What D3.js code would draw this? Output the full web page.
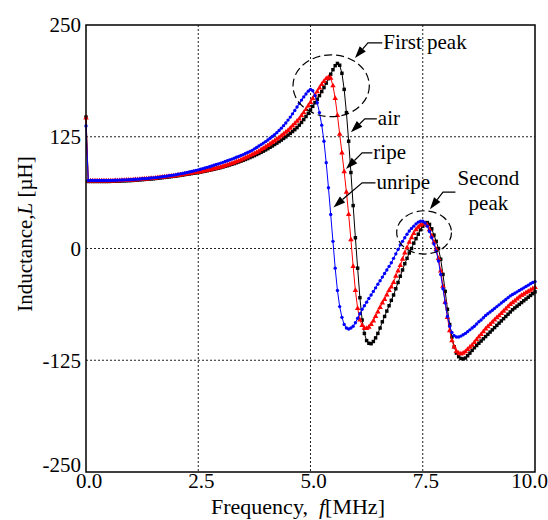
<!DOCTYPE html>
<html>
<head>
<meta charset="utf-8">
<script src="https://cdn.jsdelivr.net/npm/d3@7/dist/d3.min.js"></script>
<style>
body { margin: 0; background: #fff; }
text { font-family: "Liberation Serif", "Times New Roman", serif; fill: #000; }
</style>
</head>
<body>
<div id="chart"></div>
<script>
// inductance L [uH] sampled every 0.05 MHz from 0 to 10 MHz
var airL = [147,
  75,75,75,75,75,75,75,75,75,75,
  75.1,75.2,75.3,75.4,75.5,75.6,75.7,75.8,75.9,76,
  76.2,76.4,76.6,76.8,77,77.2,77.4,77.6,77.8,78,
  78.3,78.6,78.9,79.2,79.5,79.8,80.1,80.4,80.7,81,
  81.4,81.8,82.2,82.6,83,83.4,83.8,84.2,84.6,85,
  85.5,86,86.5,87,87.5,88.1,88.7,89.3,89.9,90.5,
  91.2,91.9,92.6,93.4,94.2,95,95.9,96.8,97.7,98.6,
  99.6,100.6,101.7,102.8,103.9,105.1,106.3,107.6,108.9,110.3,
  111.7,113.2,114.7,116.3,117.9,119.6,121.3,123.1,124.9,126.8,
  128.8,130.8,132.9,135.2,138,141,144.2,147.6,151.2,155,
  159,163,167,171,175.5,180,185,190,195,200,
  204.5,207,205,196,178,152,120,85,48,12,
  -22,-55,-80,-95,-103,-106,-106.5,-104,-100,-95,
  -89,-82,-76,-70,-64,-58,-52,-45,-38,-31,
  -24,-17,-11,-5,0,6,11,16,21,25,
  28,29,27,22,15,8,0,-12,-29,-48,
  -68,-85,-99,-110,-117,-121,-123,-123.5,-122.5,-120,
  -117,-114,-111,-108.5,-106,-103.5,-101,-98.5,-96,-93.5,
  -91,-88.5,-86,-83.5,-81,-78.5,-76,-73.5,-71,-68.5,
  -66.5,-64.5,-62.5,-60.5,-58.5,-56.5,-54.5,-52.5,-50.5,-48.5];

var ripeL = [146,
  75.5,75.5,75.5,75.5,75.5,75.5,75.5,75.5,75.5,75.5,
  75.6,75.7,75.8,75.9,76,76.1,76.2,76.3,76.4,76.5,
  76.7,76.9,77.1,77.3,77.5,77.7,77.9,78.1,78.3,78.5,
  78.8,79.1,79.4,79.7,80,80.3,80.6,80.9,81.2,81.5,
  81.9,82.3,82.7,83.1,83.5,83.9,84.3,84.7,85.1,85.5,
  86,86.5,87,87.5,88,88.6,89.2,89.8,90.4,91,
  91.8,92.6,93.4,94.3,95.2,96.1,97.1,98.1,99.1,100.2,
  101.3,102.5,103.7,104.9,106.2,107.6,109,110.5,112,113.6,
  115.2,116.9,118.6,120.4,122.2,124.1,126,128,130,132.1,
  134.5,137,139.6,142.3,145,148.5,152,155.7,159.5,163.5,
  167.5,171.5,175.5,179.5,183.5,187,190,191.5,190.5,182,
  168,149,128,107,86,63,38,10,-20,-47,
  -67,-80,-86,-89,-89.5,-88,-85,-81,-76,-71,
  -66,-61,-57,-52,-47,-43,-38,-31,-25,-19,
  -12,-5,1,7,12,17,21,24,26,27.5,
  28,26,21,14,7,-1,-11,-25,-42,-60,
  -77,-92,-103,-110,-115,-117,-118,-117,-115.5,-113,
  -110.5,-108,-105,-102,-99,-96,-93,-90,-87.5,-85,
  -82.5,-80,-77.5,-75,-72.5,-70,-67.5,-65,-62.5,-60.5,
  -58.5,-56.5,-54.5,-52.5,-51,-49.5,-48,-46.5,-45,-43.5];

var unripeL = [137,
  76,76,76,76,76,76,76,76,76,76,
  76.1,76.2,76.3,76.4,76.5,76.6,76.7,76.8,76.9,77,
  77.2,77.4,77.6,77.8,78,78.2,78.4,78.6,78.8,79,
  79.3,79.6,79.9,80.2,80.5,80.9,81.3,81.7,82.1,82.5,
  83,83.5,84,84.5,85,85.6,86.2,86.8,87.4,88,
  88.7,89.4,90.1,90.8,91.5,92.3,93.1,93.9,94.7,95.5,
  96.4,97.3,98.2,99.1,100,101,102,103,104,105,
  106.2,107.4,108.6,109.8,111.5,113,114.6,116.2,117.9,119.6,
  121.4,123.3,125.3,127.4,129.6,132,134.6,137.4,140.4,143.6,
  147,150.6,154.4,158.3,162.2,166,169.6,172.8,176,178,
  176.5,171,163,152,138,120,96,68,38,8,
  -22,-47,-65,-77,-85,-89,-90,-89,-87,-83,
  -78,-73,-68,-64,-60,-56,-52,-48,-44,-40,
  -36,-32,-28,-24,-20,-16,-11,-6,-1,4,
  8,12,16,19.5,22.5,25,27.5,29.5,30.5,30.5,
  28.5,25,19,12,5,-3,-14,-29,-45,-61,
  -76,-87,-94,-97.5,-99,-99,-98,-96.5,-95,-93,
  -91,-89,-87,-84.5,-82,-80,-77.5,-75,-73,-71,
  -69,-67,-65,-63,-61,-59,-57,-55,-53,-51.5,
  -50,-48.5,-47,-45.5,-44,-42.5,-41,-39.5,-38,-37];

var freqStep = 0.05;
var xTicks = [0, 2.5, 5, 7.5, 10];
var yTicks = [-250, -125, 0, 125, 250];

// dashed rings round the peaks (centre and radii in data units)
var rings = [
  {f: 5.46, L: 182, rf: 0.85, rL: 34.6},
  {f: 7.53, L: 18, rf: 0.61, rL: 24.2}
];

// callouts: text start, leader height, elbow, arrow tip
var callouts = [
  {text: ["First peak"], f: 6.62, L: 230, elbowF: 6.28, tipF: 5.99, tipL: 213},
  {text: ["air"], f: 6.5, L: 145, elbowF: 6.21, tipF: 5.9, tipL: 130},
  {text: ["ripe"], f: 6.4, L: 107, elbowF: 6.15, tipF: 5.79, tipL: 89},
  {text: ["unripe"], f: 6.47, L: 73.5, elbowF: 6.15, tipF: 5.51, tipL: 46},
  {text: ["Second", "peak"], f: 8.25, L: 63, elbowF: 7.95, tipF: 7.66, tipL: 44}
];

var W = 548, H = 520;
var fs = "21px";

var x = d3.scaleLinear().domain([0, 10]).range([86, 535]);
var y = d3.scaleLinear().domain([-250, 250]).range([472, 25]);

var svg = d3.select("#chart").append("svg")
    .attr("width", W)
    .attr("height", H);

// grid
svg.append("g").selectAll("line")
    .data(xTicks.slice(1, -1))
    .enter().append("line")
    .attr("x1", function(d) { return x(d); })
    .attr("x2", function(d) { return x(d); })
    .attr("y1", y(250))
    .attr("y2", y(-250))
    .style("stroke", "#222")
    .style("stroke-width", 1)
    .style("stroke-dasharray", "2,2");

svg.append("g").selectAll("line")
    .data(yTicks.slice(1, -1))
    .enter().append("line")
    .attr("x1", x(0))
    .attr("x2", x(10))
    .attr("y1", function(d) { return y(d); })
    .attr("y2", function(d) { return y(d); })
    .style("stroke", "#222")
    .style("stroke-width", 1)
    .style("stroke-dasharray", "2,2");

// tick labels
svg.append("g").selectAll("text")
    .data(xTicks)
    .enter().append("text")
    .attr("x", function(d) { return d === 10 ? x(d) + 13 : x(d) + 3; })
    .attr("y", 488)
    .attr("text-anchor", function(d) { return d === 10 ? "end" : "middle"; })
    .style("font-size", fs)
    .text(d3.format(".1f"));

svg.append("g").selectAll("text")
    .data(yTicks)
    .enter().append("text")
    .attr("x", x(0) - 5)
    .attr("y", function(d) { return d === -250 ? y(d) - 7 : y(d); })
    .attr("dy", "0.35em")
    .attr("text-anchor", "end")
    .style("font-size", fs)
    .text(function(d) { return d; });

// axis titles
var xt = svg.append("text")
    .attr("x", 298)
    .attr("y", 514)
    .attr("text-anchor", "middle")
    .style("font-size", "22px");
xt.append("tspan").text("Frequency,\u00a0\u00a0");
xt.append("tspan").style("font-style", "italic").text("f");
xt.append("tspan").text("[MHz]");

var yt = svg.append("text")
    .attr("transform", "translate(32,234) rotate(-90)")
    .attr("text-anchor", "middle")
    .style("font-size", fs);
yt.append("tspan").text("Inductance,");
yt.append("tspan").style("font-style", "italic").text("L");
yt.append("tspan").text("\u00a0[\u00b5H]");

// curves
var series = [
  {name: "air", values: airL, color: "#000", symbol: d3.symbolSquare, size: 12},
  {name: "ripe", values: ripeL, color: "#ff0000", symbol: d3.symbolTriangle, size: 13},
  {name: "unripe", values: unripeL, color: "#0000ff", symbol: d3.symbolCircle, size: 9}
];

var line = d3.line()
    .x(function(d, i) { return x(i * freqStep); })
    .y(function(d) { return y(d); });

series.forEach(function(s) {
  var g = svg.append("g").attr("class", s.name);
  g.append("path")
      .datum(s.values)
      .attr("d", line)
      .style("fill", "none")
      .style("stroke", s.color)
      .style("stroke-width", 1);
  g.selectAll("path.mark")
      .data(s.values)
      .enter().append("path")
      .attr("class", "mark")
      .attr("transform", function(d, i) { return "translate(" + x(i * freqStep) + "," + y(d) + ")"; })
      .attr("d", d3.symbol().type(s.symbol).size(s.size))
      .style("fill", s.color);
});

// frame
svg.append("rect")
    .attr("x", x(0))
    .attr("y", y(250))
    .attr("width", x(10) - x(0))
    .attr("height", y(-250) - y(250))
    .style("fill", "none")
    .style("stroke", "#000")
    .style("stroke-width", 1.5);

// peak rings
svg.append("g").selectAll("ellipse")
    .data(rings)
    .enter().append("ellipse")
    .attr("cx", function(d) { return x(d.f); })
    .attr("cy", function(d) { return y(d.L); })
    .attr("rx", function(d) { return x(d.f + d.rf) - x(d.f); })
    .attr("ry", function(d) { return y(d.L - d.rL) - y(d.L); })
    .style("fill", "none")
    .style("stroke", "#000")
    .style("stroke-width", 1.2)
    .style("stroke-dasharray", "8,4");

// callouts with arrows
callouts.forEach(function(c) {
  var ly = y(c.L),
      ex = x(c.elbowF),
      tx = x(c.tipF),
      ty = y(c.tipL),
      ang = Math.atan2(ty - ly, tx - ex),
      len = 12, half = 4;
  var bx = tx - len * Math.cos(ang),
      by = ty - len * Math.sin(ang);

  svg.append("polyline")
      .attr("points", [[x(c.f) - 1, ly], [ex, ly], [bx, by]].join(" "))
      .style("fill", "none")
      .style("stroke", "#000")
      .style("stroke-width", 1.2);

  svg.append("polygon")
      .attr("points", [[tx, ty],
        [bx + half * Math.sin(ang), by - half * Math.cos(ang)],
        [bx - half * Math.sin(ang), by + half * Math.cos(ang)]].join(" "))
      .style("fill", "#000");

  if (c.text.length === 1) {
    svg.append("text")
        .attr("x", x(c.f))
        .attr("y", ly)
        .attr("dy", "0.3em")
        .style("font-size", fs)
        .text(c.text[0]);
  } else {
    var t = svg.append("text")
        .attr("text-anchor", "middle")
        .style("font-size", fs);
    c.text.forEach(function(s, k) {
      t.append("tspan")
          .attr("x", x(c.f) + 32)
          .attr("y", ly - 7 + k * 25)
          .text(s);
    });
  }
});
</script>
</body>
</html>
